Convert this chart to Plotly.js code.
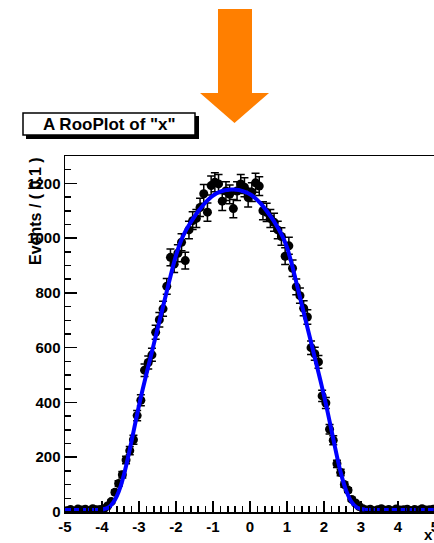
<!DOCTYPE html>
<html>
<head>
<meta charset="utf-8">
<script src="https://cdn.plot.ly/plotly-3.0.1.min.js"></script>
<style>
  html, body { margin: 0; padding: 0; background: #fff; overflow: hidden; width: 434px; height: 543px; }
  #chart { width: 440px; height: 543px; }
</style>
</head>
<body>
<div id="chart"></div>
<script>
// ---- data ----
const binX = [-4.95, -4.85, -4.75, -4.65, -4.55, -4.45, -4.35, -4.25, -4.15, -4.05,
  -3.95, -3.85, -3.75, -3.65, -3.55, -3.45, -3.35, -3.25, -3.15, -3.05,
  -2.95, -2.85, -2.75, -2.65, -2.55, -2.45, -2.35, -2.25, -2.15, -2.05,
  -1.95, -1.85, -1.75, -1.65, -1.55, -1.45, -1.35, -1.25, -1.15, -1.05,
  -0.95, -0.85, -0.75, -0.65, -0.55, -0.45, -0.35, -0.25, -0.15, -0.05,
  0.05, 0.15, 0.25, 0.35, 0.45, 0.55, 0.65, 0.75, 0.85, 0.95,
  1.05, 1.15, 1.25, 1.35, 1.45, 1.55, 1.65, 1.75, 1.85, 1.95,
  2.05, 2.15, 2.25, 2.35, 2.45, 2.55, 2.65, 2.75, 2.85, 2.95,
  3.05, 3.15, 3.25, 3.35, 3.45, 3.55, 3.65, 3.75, 3.85, 3.95,
  4.05, 4.15, 4.25, 4.35, 4.45, 4.55, 4.65, 4.75, 4.85, 4.95];

const counts = [5, 9, 3, 11, 7, 10, 4, 12, 8, 9,
  11, 22, 38, 72, 104, 136, 190, 224, 264, 352,
  408, 518, 546, 574, 656, 702, 742, 824, 930, 905,
  945, 985, 918, 1030, 1064, 1072, 1112, 1162, 1095, 1192,
  1204, 1198, 1135, 1172, 1160, 1108, 1172, 1198, 1186, 1148,
  1168, 1202, 1190, 1100, 1094, 1072, 1058, 1030, 1006, 934,
  972, 890, 822, 790, 744, 712, 600, 578, 548, 424,
  398, 302, 262, 176, 144, 100, 80, 46, 33, 20,
  12, 7, 10, 5, 8, 12, 6, 9, 4, 11,
  7, 8, 10, 5, 9, 6, 12, 7, 8, 10];

const curveX = [-4.0, -3.9, -3.8, -3.7, -3.6, -3.5, -3.4, -3.3, -3.2, -3.1,
  -3.0, -2.9, -2.8, -2.7, -2.6, -2.5, -2.4, -2.3, -2.2, -2.1,
  -2.0, -1.9, -1.8, -1.7, -1.6, -1.5, -1.4, -1.3, -1.2, -1.1,
  -1.0, -0.9, -0.8, -0.7, -0.6, -0.5, -0.4, -0.3, -0.2, -0.1,
  0.0, 0.1, 0.2, 0.3, 0.4, 0.5, 0.6, 0.7, 0.8, 0.9,
  1.0, 1.1, 1.2, 1.3, 1.4, 1.5, 1.6, 1.7, 1.8, 1.9,
  2.0, 2.1, 2.2, 2.3, 2.4, 2.5, 2.6, 2.7, 2.8, 2.9,
  3.0, 3.1];
const curveY = [9, 12, 19, 34, 58, 93, 140, 197, 260, 325,
  389, 448, 504, 558, 613, 668, 723, 778, 833, 887,
  937, 978, 1010, 1036, 1058, 1079, 1098, 1115, 1131, 1144,
  1155, 1164, 1170, 1174, 1176, 1178, 1177, 1176, 1172, 1167,
  1160, 1151, 1139, 1125, 1108, 1090, 1071, 1050, 1027, 1000,
  966, 920, 867, 812, 757, 702, 647, 592, 537, 482,
  425, 364, 300, 235, 173, 120, 78, 47, 27, 16,
  11, 9];

const tailLeftX = [-5.0, -4.0];
const tailRightX = [3.1, 5.0];
const tailY = [9, 9];

const xTickVals = [-5, -4, -3, -2, -1, 0, 1, 2, 3, 4, 5];
const xTickText = ["-5", "-4", "-3", "-2", "-1", "0", "1", "2", "3", "4", "5"];
const yTickVals = [0, 200, 400, 600, 800, 1000, 1200];
const yTickText = ["0", "200", "400", "600", "800", "1000", "1200"];

const plotTitle = 'A RooPlot of "x"';
const yTitle = "Events / ( 0.1 )";
const xTitle = "x";

// ---- layout geometry ----
const W = 440, H = 543;
const M = { l: 65, r: 5, t: 156, b: 31 };
const PW = W - M.l - M.r, PH = H - M.t - M.b;
const px = v => (v - M.l) / PW;          // pixel x -> paper x
const py = v => (H - M.b - v) / PH;      // pixel y -> paper y

const font = { family: "Liberation Sans, Arial, sans-serif", color: "#000", weight: "bold" };
const orange = "#ff7f00";

const arrowPath = [
  [218, 9], [252, 9], [252, 93], [269, 93], [234.5, 123], [200, 93], [218, 93]
].map((p, i) => (i === 0 ? "M" : "L") + px(p[0]).toFixed(4) + "," + py(p[1]).toFixed(4)).join(" ") + " Z";

const traces = [
  {
    type: "scatter", mode: "markers", x: binX, y: counts,
    marker: { color: "#000", size: 9, symbol: "circle" },
    error_y: { type: "data", array: counts.map(Math.sqrt), visible: true, color: "#000", thickness: 1.5, width: 4 },
    hoverinfo: "x+y", showlegend: false
  },
  {
    type: "scatter", mode: "lines", x: curveX, y: curveY,
    line: { color: "#0000ff", width: 4, shape: "spline", smoothing: 0.6 },
    showlegend: false
  },
  {
    type: "scatter", mode: "lines", x: tailLeftX, y: tailY,
    line: { color: "#0000ff", width: 3, dash: "6px,3px" }, showlegend: false
  },
  {
    type: "scatter", mode: "lines", x: tailRightX, y: tailY,
    line: { color: "#0000ff", width: 3, dash: "6px,3px" }, showlegend: false
  }
];

const layout = {
  width: W, height: H,
  margin: M,
  paper_bgcolor: "#fff", plot_bgcolor: "#fff",
  showlegend: false,
  xaxis: {
    range: [-5, 5], tickmode: "array", tickvals: xTickVals, ticktext: xTickText,
    ticks: "inside", ticklen: 11, tickwidth: 1.5, tickcolor: "#000",
    minor: { tick0: -5, dtick: 0.2, ticks: "inside", ticklen: 6, tickwidth: 1.5, tickcolor: "#000" },
    showline: true, linecolor: "#000", linewidth: 1.5, mirror: true,
    showgrid: false, zeroline: false,
    tickfont: Object.assign({}, font, { size: 15 })
  },
  yaxis: {
    range: [0, 1300], tickmode: "array", tickvals: yTickVals, ticktext: yTickText,
    ticks: "inside", ticklen: 12, tickwidth: 1.5, tickcolor: "#000",
    minor: { tick0: 0, dtick: 50, ticks: "inside", ticklen: 6, tickwidth: 1.5, tickcolor: "#000" },
    showline: true, linecolor: "#000", linewidth: 1.5, mirror: true,
    showgrid: false, zeroline: false,
    tickfont: Object.assign({}, font, { size: 15 })
  },
  shapes: [
    { type: "path", xref: "paper", yref: "paper", path: arrowPath, fillcolor: orange, line: { width: 0 } },
    { type: "rect", xref: "paper", yref: "paper", x0: px(26), x1: px(199), y0: py(116), y1: py(139), fillcolor: "#000", line: { width: 0 } },
    { type: "rect", xref: "paper", yref: "paper", x0: px(23), x1: px(195), y0: py(113), y1: py(135), fillcolor: "#fff", line: { color: "#000", width: 1.5 } }
  ],
  annotations: [
    { text: plotTitle, xref: "paper", yref: "paper", x: px(109), y: py(124.5), xanchor: "center", yanchor: "middle",
      showarrow: false, font: Object.assign({}, font, { size: 17 }) },
    { text: yTitle, xref: "paper", yref: "paper", x: px(35), y: 1, xanchor: "center", yanchor: "top", yshift: 1,
      textangle: -90, showarrow: false, font: Object.assign({}, font, { size: 16 }) },
    { text: xTitle, xref: "paper", yref: "paper", x: px(428), y: 0, xanchor: "center", yanchor: "top", yshift: -13,
      borderpad: 0, showarrow: false, font: Object.assign({}, font, { size: 15 }) }
  ]
};

Plotly.newPlot("chart", traces, layout, { staticPlot: true, displayModeBar: false });
</script>
</body>
</html>
